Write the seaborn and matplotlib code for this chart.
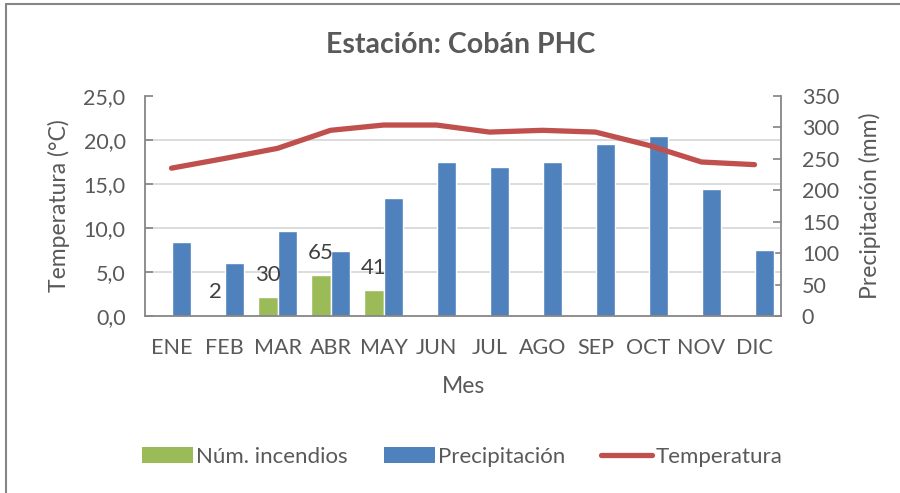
import matplotlib
matplotlib.use("Agg")
import matplotlib.pyplot as plt
import seaborn as sns
import numpy as np
import pandas as pd
from matplotlib.patches import Patch
from matplotlib.lines import Line2D

meses = ["ENE", "FEB", "MAR", "ABR", "MAY", "JUN", "JUL", "AGO", "SEP", "OCT", "NOV", "DIC"]
incendios = [np.nan, 2, 30, 65, 41, np.nan, np.nan, np.nan, np.nan, np.nan, np.nan, np.nan]
precipitacion = [117, 85, 135, 103, 188, 245, 237, 245, 274, 287, 202, 105]
temperatura = [16.8, 17.9, 19.05, 21.1, 21.7, 21.7, 20.9, 21.1, 20.9, 19.4, 17.5, 17.2]
temp_ticks = [0, 5, 10, 15, 20, 25]
prec_ticks = [0, 50, 100, 150, 200, 250, 300, 350]

sns.set_theme(style="white")
plt.rcParams["font.family"] = ["Lato", "DejaVu Sans"]
TXT = "#595959"

df = pd.DataFrame({
    "Mes": meses * 2,
    "Serie": ["Núm. incendios"] * 12 + ["Precipitación"] * 12,
    "Valor": incendios + precipitacion,
})

fig = plt.figure(figsize=(9, 4.93), dpi=100)
ax = fig.add_axes([145 / 900, 1 - 316 / 493, (781 - 145) / 900, (316 - 96) / 493])
ax2 = ax.twinx()

# bars on ax (right axis scale)
sns.barplot(data=df, x="Mes", y="Valor", hue="Serie", order=meses,
            hue_order=["Núm. incendios", "Precipitación"],
            palette={"Núm. incendios": "#9BBB59", "Precipitación": "#4F81BD"},
            width=0.72, gap=0, dodge=True, errorbar=None, legend=False,
            saturation=1, ax=ax, zorder=2)
ax.set_ylim(0, 350)
ax.set_xlim(-0.5, 11.5)
ax.yaxis.tick_right()
ax.yaxis.set_label_position("right")
ax.set_yticks(prec_ticks)
ax.set_yticklabels([str(v) for v in prec_ticks])
# gridlines aligned with temperature ticks
ax.set_yticks([t * 14 for t in temp_ticks], minor=True)
ax.grid(False)
ax.grid(which="minor", axis="y", color="#D9D9D9", linewidth=1.3, zorder=0)
ax.set_axisbelow(True)
ax.tick_params(axis="y", which="minor", length=0)
ax.tick_params(axis="y", which="major", direction="in", length=6, color="#868686",
               labelsize=15.5, labelcolor=TXT, pad=15, right=True)
ax.tick_params(axis="x", length=0, labelsize=15.5, labelcolor=TXT, pad=16)
ax.set_ylabel("Precipitación (mm)", fontsize=16.5, color=TXT, labelpad=14)
ax.set_xlabel("Mes", fontsize=16.5, color=TXT, labelpad=13)

# labels on green bars
cont = ax.containers[0]
for bar in cont:
    if bar is None or not np.isfinite(bar.get_height()):
        continue
    h = bar.get_height()
    ax.annotate(f"{h:.0f}", (bar.get_x() + bar.get_width() / 2, h),
                xytext=(0, 9), textcoords="offset points", ha="center", va="bottom",
                fontsize=16, color="#404040")

# temperature line
tdf = pd.DataFrame({"Mes": meses, "Temperatura": temperatura})
sns.lineplot(data=tdf, x="Mes", y="Temperatura", sort=False, color="#C0504D",
             linewidth=3.8, ax=ax2, solid_capstyle="round")
ax2.set_ylim(0, 25)
ax2.yaxis.tick_left()
ax2.yaxis.set_label_position("left")
ax2.set_yticks(temp_ticks)
ax2.set_yticklabels([f"{v:.1f}".replace(".", ",") for v in temp_ticks])
ax2.tick_params(axis="y", direction="in", length=6, color="#868686",
                labelsize=15.5, labelcolor=TXT, pad=14, left=True, right=False)
ax2.set_ylabel("Temperatura (°C)", fontsize=16.5, color=TXT, labelpad=10)
ax2.grid(False)
ax2.set_xlim(-0.5, 11.5)

for a in (ax, ax2):
    for s in a.spines.values():
        s.set_visible(False)
for side in ("left", "right", "bottom"):
    ax2.spines[side].set_visible(True)
    ax2.spines[side].set_color("#868686")
    ax2.spines[side].set_linewidth(1.3)

fig.text(461 / 900, 1 - 45 / 493, "Estación: Cobán PHC", ha="center", va="center",
         fontsize=20.5, fontweight="bold", color=TXT)

handles = [Patch(facecolor="#9BBB59", edgecolor="none"),
           Patch(facecolor="#4F81BD", edgecolor="none"),
           Line2D([0], [0], color="#C0504D", linewidth=3.8, solid_capstyle="round")]
fig.legend(handles, ["Núm. incendios", "Precipitación", "Temperatura"],
           loc="center", bbox_to_anchor=(462 / 900, 1 - 457 / 493), ncol=3,
           frameon=False, fontsize=16, handlelength=2.3, handletextpad=0.15,
           columnspacing=1.6, labelcolor=TXT, handleheight=0.75)

# chart border (left and top visible)
fig.add_artist(Line2D([6 / 900, 6 / 900], [0, 1 - 4 / 493], color="#868686",
                      linewidth=1.5, transform=fig.transFigure))
fig.add_artist(Line2D([6 / 900, 1], [1 - 4 / 493, 1 - 4 / 493], color="#868686",
                      linewidth=1.5, transform=fig.transFigure))

fig.savefig("out.png", dpi=100)
